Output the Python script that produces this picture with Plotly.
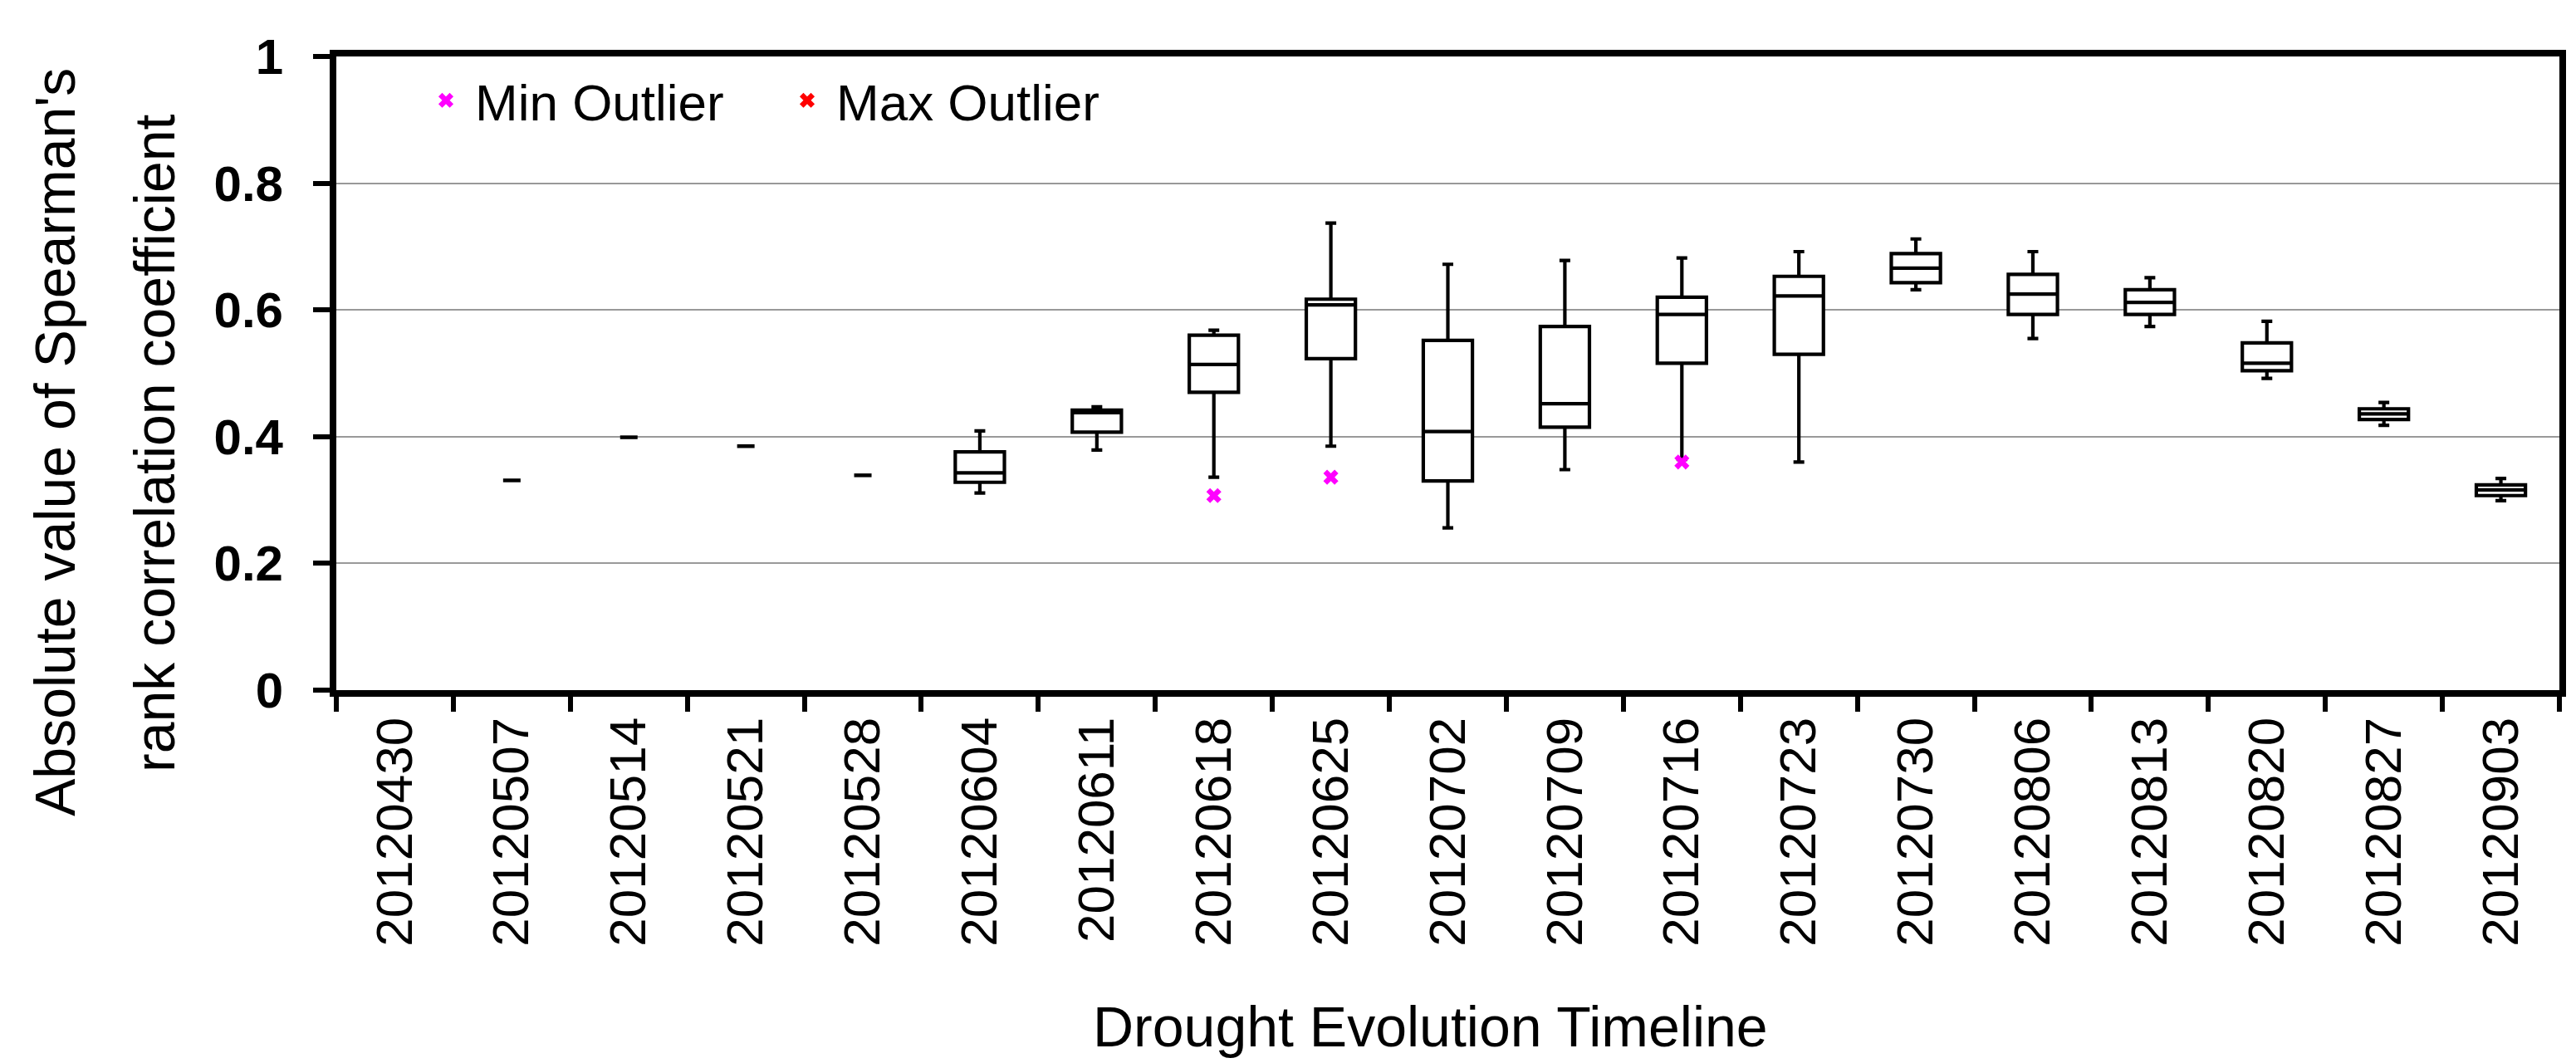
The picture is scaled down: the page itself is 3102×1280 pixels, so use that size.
import plotly.graph_objects as go

# ---------------- data ----------------
dates = ["20120430", "20120507", "20120514", "20120521", "20120528", "20120604",
         "20120611", "20120618", "20120625", "20120702", "20120709", "20120716",
         "20120723", "20120730", "20120806", "20120813", "20120820", "20120827",
         "20120903"]

box_dates = ["20120604", "20120611", "20120618", "20120625", "20120702", "20120709",
             "20120716", "20120723", "20120730", "20120806", "20120813", "20120820",
             "20120827", "20120903"]
whisker_low = [0.311, 0.379, 0.336, 0.385, 0.256, 0.348, 0.364, 0.360, 0.632, 0.555,
               0.574, 0.492, 0.418, 0.299]
q1 = [0.328, 0.407, 0.470, 0.523, 0.330, 0.415, 0.516, 0.530, 0.643, 0.593,
      0.593, 0.504, 0.427, 0.307]
median = [0.343, 0.438, 0.514, 0.608, 0.408, 0.452, 0.593, 0.622, 0.666, 0.625,
          0.612, 0.516, 0.436, 0.316]
q3 = [0.376, 0.442, 0.560, 0.617, 0.552, 0.574, 0.620, 0.653, 0.689, 0.656,
      0.632, 0.548, 0.444, 0.324]
whisker_high = [0.409, 0.447, 0.568, 0.737, 0.672, 0.678, 0.682, 0.692, 0.712, 0.692,
                0.651, 0.582, 0.454, 0.334]

single_dates = ["20120507", "20120514", "20120521", "20120528"]
single_values = [0.331, 0.399, 0.385, 0.339]

min_outlier_dates = ["20120618", "20120625", "20120716"]
min_outlier_values = [0.307, 0.336, 0.360]
max_outlier_dates = []
max_outlier_values = []

y_ticks = [0, 0.2, 0.4, 0.6, 0.8, 1]

# ---------------- figure ----------------
FONT = "Arial, 'Liberation Sans', sans-serif"

fig = go.Figure()

fig.add_trace(go.Box(
    x=box_dates, q1=q1, median=median, q3=q3,
    lowerfence=whisker_low, upperfence=whisker_high,
    boxpoints=False, width=0.42, whiskerwidth=0.22,
    fillcolor="white", line=dict(color="black", width=4.2),
    showlegend=False, hoverinfo="skip",
))

fig.add_trace(go.Scatter(
    x=single_dates, y=single_values, mode="markers",
    marker=dict(symbol="line-ew", size=15, color="black",
                line=dict(color="black", width=4.5)),
    showlegend=False, hoverinfo="skip",
))

fig.add_trace(go.Scatter(
    x=min_outlier_dates, y=min_outlier_values, mode="markers",
    name="Min Outlier",
    marker=dict(symbol="x", size=16, color="#FF00FF"),
))

fig.add_trace(go.Scatter(
    x=max_outlier_dates if max_outlier_dates else [None],
    y=max_outlier_values if max_outlier_values else [None],
    mode="markers", name="Max Outlier",
    marker=dict(symbol="x", size=16, color="#FF0000"),
))

L, R, T, B = 397, 28, 60, 457
W, H = 3102, 1280
pw = W - L - R
ph = H - T - B

def px_x(x):
    return (x - L) / pw

def px_y(y):
    return (H - B - y) / ph

fig.update_layout(
    width=W, height=H,
    margin=dict(l=L, r=R, t=T, b=B, pad=0),
    plot_bgcolor="white", paper_bgcolor="white",
    font=dict(family=FONT, color="black", size=60),
    showlegend=True,
    legend=dict(
        orientation="h", x=px_x(494), y=px_y(66), xanchor="left", yanchor="top",
        font=dict(family=FONT, size=62, color="black"),
        bgcolor="rgba(0,0,0,0)", entrywidth=360, entrywidthmode="pixels",
        itemwidth=60,
    ),
    xaxis=dict(
        type="category", categoryorder="array", categoryarray=dates,
        range=[-0.5, len(dates) - 0.5],
        showline=True, mirror=True, linewidth=8, linecolor="black",
        ticks="outside", ticklen=18, tickwidth=6, tickcolor="black",
        tickson="boundaries", tickangle=-90,
        tickfont=dict(family=FONT, size=62, color="black"),
        showgrid=False, zeroline=False,
    ),
    yaxis=dict(
        range=[0, 1], tickmode="array", tickvals=y_ticks,
        ticktext=[("%g" % v) for v in y_ticks],
        showline=True, mirror=True, linewidth=8, linecolor="black",
        ticks="outside", ticklen=20, tickwidth=6, tickcolor="black",
        tickfont=dict(family=FONT, size=60, color="black", weight="bold"),
        ticklabelstandoff=24,
        showgrid=True, gridcolor="#999999", gridwidth=2, zeroline=False,
    ),
    annotations=[
        dict(text="Absolute value of Spearman's", textangle=-90,
             xref="paper", yref="paper", x=px_x(58), y=px_y(525),
             xanchor="center", yanchor="middle", showarrow=False,
             font=dict(family=FONT, size=68, color="black")),
        dict(text="rank correlation coefficient", textangle=-90,
             xref="paper", yref="paper", x=px_x(178), y=px_y(525),
             xanchor="center", yanchor="middle", showarrow=False,
             font=dict(family=FONT, size=68, color="black")),
        dict(text="Drought Evolution Timeline",
             xref="paper", yref="paper", x=px_x(1714), y=px_y(1228),
             xanchor="center", yanchor="middle", showarrow=False,
             font=dict(family=FONT, size=68, color="black")),
    ],
)

fig.write_html("out.html")
